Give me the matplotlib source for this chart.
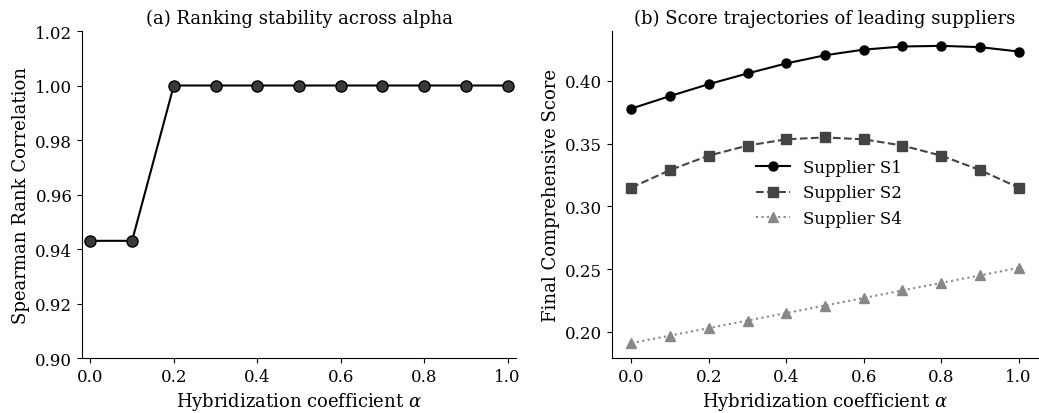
import numpy as np
import matplotlib.pyplot as plt

plt.rcParams['font.family'] = 'DejaVu Serif'
plt.rcParams['mathtext.fontset'] = 'dejavuserif'

# data
alpha = [0.0, 0.1, 0.2, 0.3, 0.4, 0.5, 0.6, 0.7, 0.8, 0.9, 1.0]
spearman = [0.943, 0.943, 1.0, 1.0, 1.0, 1.0, 1.0, 1.0, 1.0, 1.0, 1.0]
s1 = [0.378, 0.388, 0.3975, 0.406, 0.414, 0.4205, 0.425, 0.4275, 0.428, 0.427, 0.4235]
s2 = [0.315, 0.329, 0.3405, 0.3485, 0.3535, 0.355, 0.3535, 0.3485, 0.3405, 0.329, 0.315]
s4 = [0.191, 0.197, 0.203, 0.209, 0.215, 0.221, 0.227, 0.233, 0.239, 0.245, 0.251]

fig = plt.figure(figsize=(10.39, 4.14), dpi=100)
ax1 = fig.add_axes([82 / 1039, 55 / 414, 434 / 1039, 327 / 414])
ax2 = fig.add_axes([612 / 1039, 55 / 414, 426 / 1039, 327 / 414])

# (a) ranking stability
ax1.plot(alpha, spearman, color='black', linewidth=1.5, marker='o',
         markersize=8, markerfacecolor='#3a3a3a', markeredgecolor='black')
ax1.set_ylim(0.90, 1.02)
ax1.set_xlim(-0.02, 1.02)
ax1.set_xticks([0.0, 0.2, 0.4, 0.6, 0.8, 1.0])
ax1.set_title('(a) Ranking stability across alpha', fontsize=13)
ax1.set_xlabel(r'Hybridization coefficient $\alpha$', fontsize=13)
ax1.set_ylabel('Spearman Rank Correlation', fontsize=13)

# (b) score trajectories
ax2.plot(alpha, s1, color='black', linestyle='-', linewidth=1.5,
         marker='o', markersize=6.5, label='Supplier S1')
ax2.plot(alpha, s2, color='#444444', linestyle='--', linewidth=1.5,
         marker='s', markersize=6.5, label='Supplier S2')
ax2.plot(alpha, s4, color='#888888', linestyle=':', linewidth=1.5,
         marker='^', markersize=6.5, label='Supplier S4')
ax2.set_xticks([0.0, 0.2, 0.4, 0.6, 0.8, 1.0])
ax2.set_yticks([0.20, 0.25, 0.30, 0.35, 0.40])
ax2.set_title('(b) Score trajectories of leading suppliers', fontsize=13)
ax2.set_xlabel(r'Hybridization coefficient $\alpha$', fontsize=13)
ax2.set_ylabel('Final Comprehensive Score', fontsize=13)
ax2.legend(frameon=False, fontsize=12, loc='center', bbox_to_anchor=(0.51, 0.505))

for ax in (ax1, ax2):
    ax.spines['top'].set_visible(False)
    ax.spines['right'].set_visible(False)
    ax.tick_params(labelsize=12)

fig.savefig('out.png', dpi=100)
